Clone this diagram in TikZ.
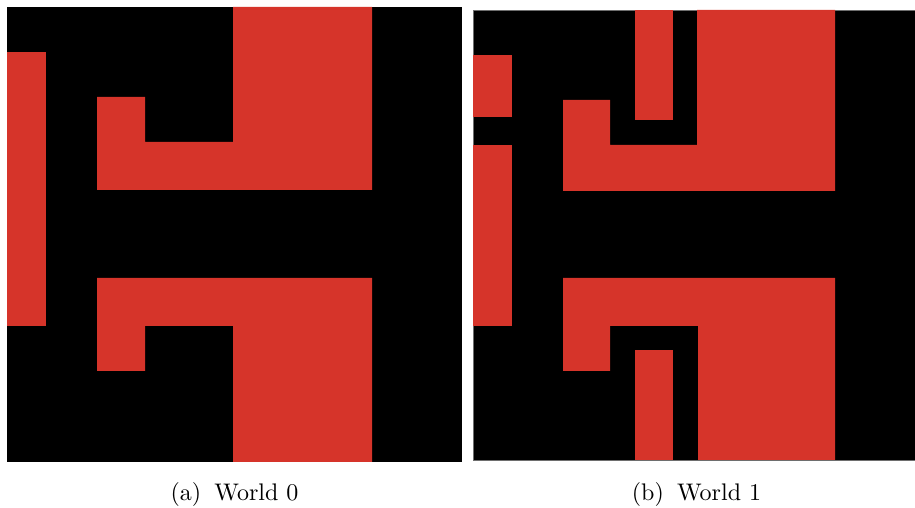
\documentclass[tikz,border=0pt]{standalone}
\usepackage{tikz}
\usepackage{xcolor}
\usetikzlibrary{positioning}
\definecolor{wallred}{RGB}{214,52,42}
\definecolor{edgegray}{RGB}{110,110,110}

\begin{document}
\begin{tikzpicture}[
    x=0.4167pt, y=-0.4167pt,
    floorbg/.style={fill=black},
    wall/.style={fill=wallred},
    caption/.style={anchor=base, font=\normalsize, inner sep=0pt}
]
\useasboundingbox (0,0) rectangle (915,508);

% World 0
\fill[floorbg] (7,7) rectangle (462,462);
\fill[wall] (7,52) rectangle (46,326);
\fill[wall] (97,97) -- (145,97) -- (145,142) -- (233,142) -- (233,7)
    -- (372,7) -- (372,190) -- (97,190) -- cycle;
\fill[wall] (97,278) -- (372,278) -- (372,462) -- (233,462) -- (233,326)
    -- (145,326) -- (145,371) -- (97,371) -- cycle;

% World 1
\filldraw[floorbg, draw=edgegray, line width=0.3pt] (473,10) rectangle (915,460);
\fill[wall] (473,55) rectangle (512,117);
\fill[wall] (473,145) rectangle (512,326);
\fill[wall] (563,100) -- (610,100) -- (610,145) -- (697,145) -- (697,10)
    -- (835,10) -- (835,191) -- (563,191) -- cycle;
\fill[wall] (635,10) rectangle (673,120);
\fill[wall] (563,278) -- (835,278) -- (835,460) -- (698,460) -- (698,326)
    -- (610,326) -- (610,371) -- (563,371) -- cycle;
\fill[wall] (635,350) rectangle (673,460);

% captions
\node[caption] (capa) at (234.5,501) {(a)\hspace{5.5pt}World 0};
\node[caption] (capb) at (696.5,501) {(b)\hspace{5.5pt}World 1};

\end{tikzpicture}
\end{document}
